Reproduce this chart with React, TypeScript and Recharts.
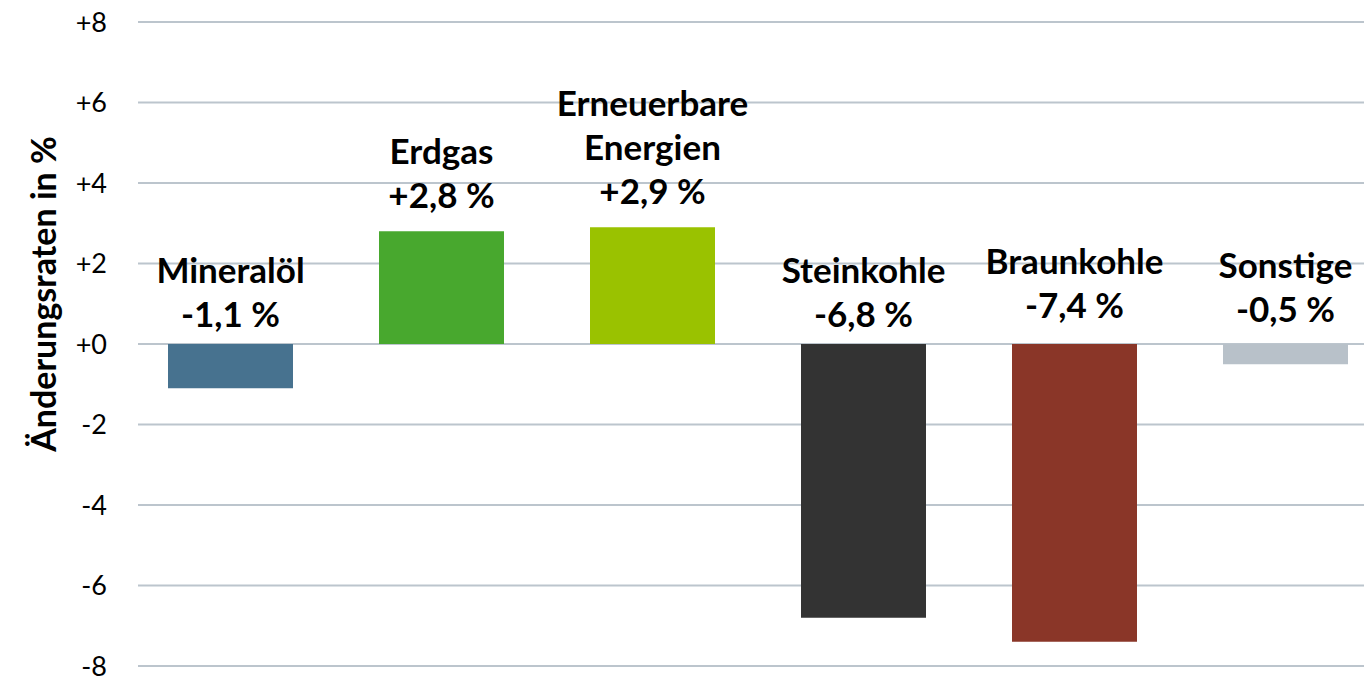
import { BarChart, Bar, XAxis, YAxis, CartesianGrid, Cell, Label } from "recharts";

const categories = [["Mineralöl"], ["Erdgas"], ["Erneuerbare", "Energien"], ["Steinkohle"], ["Braunkohle"], ["Sonstige"]];
const changes = [-1.1, 2.8, 2.9, -6.8, -7.4, -0.5];
const barColors = ["#47728F", "#48A82E", "#9AC200", "#333333", "#8A3628", "#B8C1C9"];
const yTicks = [-8, -6, -4, -2, 0, 2, 4, 6, 8];
// extra lift of the hand-placed labels, px
const labelLift = [0, 0, 0, 0, 9, 5];

const data = categories.map((lines, i) => ({
  name: lines.join(" "),
  lines,
  value: changes[i],
}));

const font = "Lato, 'Open Sans', sans-serif";

const fmtTick = (v: number) => (v >= 0 ? `+${v}` : `${v}`);
const fmtValue = (v: number) =>
  `${v >= 0 ? "+" : "-"}${Math.abs(v).toFixed(1).replace(".", ",")} %`;

function BarLabel(props: any) {
  const { x, y, width, height, index } = props;
  const d = data[index];
  const top = Math.min(Number(y), Number(y) + Number(height));
  const cx = Number(x) + Number(width) / 2;
  const lines = [...d.lines, fmtValue(d.value)];
  const base = top - (d.value >= 0 ? 23 : 17) - labelLift[index];
  return (
    <g>
      {lines.map((t, i) => (
        <text
          key={i}
          x={cx}
          y={base - (lines.length - 1 - i) * 44}
          textAnchor="middle"
          fontFamily={font}
          fontWeight={700}
          fontSize={35}
          fill="#000"
        >
          {t}
        </text>
      ))}
    </g>
  );
}

function GridLine(props: any) {
  const { x1, x2, y1, y2 } = props;
  return <line x1={x1 + 13} x2={x2} y1={y1} y2={y2} stroke="#BCC5CD" strokeWidth={2} />;
}

export default function App() {
  return (
    <div style={{ position: "absolute", left: 0, top: 0, width: 1364, height: 677, overflow: "hidden", background: "#fff" }}>
      <BarChart
        width={1391}
        height={677}
        data={data}
        margin={{ top: 22, right: 0, bottom: 11, left: 0 }}
      >
        <CartesianGrid vertical={false} horizontal={GridLine} />
        <XAxis dataKey="name" hide />
        <YAxis
          width={125}
          domain={[-8, 8]}
          ticks={yTicks}
          interval={0}
          tickFormatter={fmtTick}
          axisLine={false}
          tickLine={false}
          tickSize={0}
          tickMargin={18}
          tick={{ fontSize: 27, fill: "#000", fontFamily: font }}
        >
          <Label
            content={() => (
              <text
                x={42}
                y={294}
                transform="rotate(-90 42 294)"
                textAnchor="middle"
                dominantBaseline="central"
                fontFamily={font}
                fontWeight={700}
                fontSize={34}
                fill="#000"
              >
                Änderungsraten in %
              </text>
            )}
          />
        </YAxis>
        <Bar dataKey="value" barSize={125} isAnimationActive={false} label={BarLabel}>
          {data.map((_, i) => (
            <Cell key={i} fill={barColors[i]} />
          ))}
        </Bar>
      </BarChart>
    </div>
  );
}
